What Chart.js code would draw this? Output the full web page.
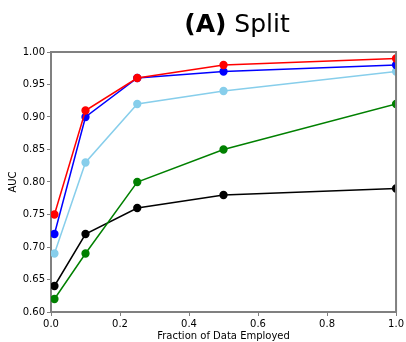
<!DOCTYPE html>
<html>
<head>
<meta charset="utf-8">
<script src="https://cdn.jsdelivr.net/npm/chart.js@4"></script>
<style>
  html, body { margin: 0; padding: 0; background: #fff; }
  #wrap { width: 406px; height: 342px; }
</style>
</head>
<body>
<div id="wrap"><canvas id="splitChart" width="406" height="342"></canvas></div>
<script>
// fractions of data used (x)
const fractions = [0.01, 0.1, 0.25, 0.5, 1.0];

// AUC values per series
const redAuc = [0.75, 0.91, 0.96, 0.98, 0.99];
const blueAuc = [0.72, 0.90, 0.96, 0.97, 0.98];
const skyAuc = [0.69, 0.83, 0.92, 0.94, 0.97];
const greenAuc = [0.62, 0.69, 0.80, 0.85, 0.92];
const blackAuc = [0.64, 0.72, 0.76, 0.78, 0.79];

const xTicks = [0, 0.2, 0.4, 0.6, 0.8, 1.0];
const yTicks = [0.60, 0.65, 0.70, 0.75, 0.80, 0.85, 0.90, 0.95, 1.00];

const FONT = "'DejaVu Sans', sans-serif";
const AXIS_GREY = "#808080";

function toPoints(vals) {
    return fractions.map((f, i) => ({ x: f, y: vals[i] }));
}

function series(vals, color) {
    return {
        data: toPoints(vals),
        borderColor: color,
        backgroundColor: color,
        pointBackgroundColor: color,
        pointBorderColor: color,
        pointRadius: 3.4,
        borderWidth: 1.5,
        tension: 0
    };
}

// title with bold "(A)" and regular "Split", plus top/right frame
const decorPlugin = {
    id: "decor",
    afterDraw(chart) {
        const ctx = chart.ctx;
        const area = chart.chartArea;
        ctx.save();
        ctx.strokeStyle = AXIS_GREY;
        ctx.lineWidth = 2;
        ctx.beginPath();
        ctx.moveTo(area.left, area.top);
        ctx.lineTo(area.right, area.top);
        ctx.lineTo(area.right, area.bottom);
        ctx.stroke();

        ctx.fillStyle = "#000";
        ctx.textBaseline = "alphabetic";
        const boldPart = "(A)";
        const normPart = " Split";
        ctx.font = "bold 25px " + FONT;
        const w1 = ctx.measureText(boldPart).width;
        ctx.font = "25px " + FONT;
        const w2 = ctx.measureText(normPart).width;
        const cx = 237;
        const x0 = cx - (w1 + w2) / 2;
        ctx.font = "bold 25px " + FONT;
        ctx.fillText(boldPart, x0, 32);
        ctx.font = "25px " + FONT;
        ctx.fillText(normPart, x0 + w1, 32);
        ctx.restore();
    }
};

new Chart(document.getElementById("splitChart").getContext("2d"), {
    type: "line",
    data: {
        datasets: [
            series(redAuc, "#ff0000"),
            series(blueAuc, "#0000ff"),
            series(skyAuc, "#87ceeb"),
            series(greenAuc, "#008000"),
            series(blackAuc, "#000000")
        ]
    },
    options: {
        responsive: false,
        animation: false,
        layout: { padding: { top: 52, right: 8, left: 7, bottom: 0 } },
        plugins: {
            legend: { display: false },
            tooltip: { enabled: false }
        },
        scales: {
            x: {
                type: "linear",
                min: 0,
                max: 1.0,
                afterFit(scale) { scale.height = 30; },
                afterBuildTicks(scale) { scale.ticks = xTicks.map(v => ({ value: v })); },
                ticks: {
                    font: { family: FONT, size: 10 },
                    color: "#000",
                    padding: 2,
                    maxRotation: 0,
                    callback: v => v.toFixed(1)
                },
                grid: {
                    drawOnChartArea: false,
                    drawTicks: true,
                    tickLength: 4,
                    color: AXIS_GREY
                },
                border: { color: AXIS_GREY, width: 2 },
                title: {
                    display: true,
                    text: "Fraction of Data Employed",
                    font: { family: FONT, size: 10 },
                    color: "#000",
                    padding: { top: 0, bottom: 0 }
                }
            },
            y: {
                min: 0.6,
                max: 1.0,
                afterFit(scale) { scale.width = 44; },
                afterBuildTicks(scale) { scale.ticks = yTicks.map(v => ({ value: v })); },
                ticks: {
                    font: { family: FONT, size: 10 },
                    color: "#000",
                    padding: 2,
                    callback: v => v.toFixed(2)
                },
                grid: {
                    drawOnChartArea: false,
                    drawTicks: true,
                    tickLength: 4,
                    color: AXIS_GREY
                },
                border: { color: AXIS_GREY, width: 2 },
                title: {
                    display: true,
                    text: "AUC",
                    font: { family: FONT, size: 10 },
                    color: "#000",
                    padding: { top: 0, bottom: 2 }
                }
            }
        }
    },
    plugins: [decorPlugin]
});
</script>
</body>
</html>
